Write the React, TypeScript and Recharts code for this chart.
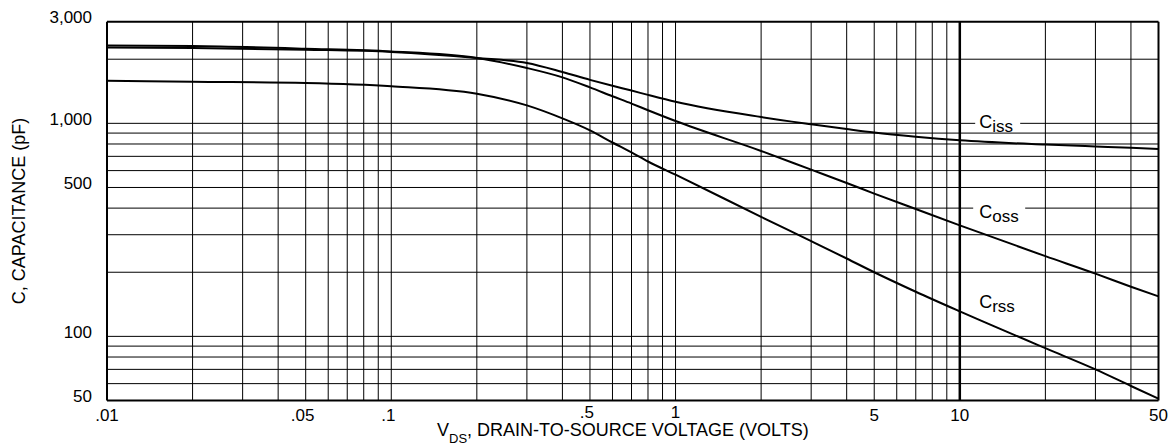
import React from 'react';
import { LineChart, Line, XAxis, YAxis, ReferenceLine, ReferenceDot } from 'recharts';

const vds = [0.01, 0.02, 0.05, 0.1, 0.2, 0.3, 0.4, 0.5, 0.6, 0.7, 0.8, 1, 2, 3, 4, 5, 7, 10, 20, 30, 40, 50];
const ciss = [2273, 2258, 2217, 2165, 2027, 1920, 1742, 1600, 1500, 1425, 1360, 1262, 1070, 990, 940, 905, 865, 832, 795, 779, 768, 758];
const coss = [2322, 2308, 2241, 2175, 2027, 1819, 1644, 1475, 1340, 1238, 1152, 1025, 742, 606, 525, 468, 396, 332, 238, 197, 171, 154];
const crss = [1586, 1568, 1546, 1494, 1378, 1214, 1055, 927, 813, 730, 662, 574, 364, 280, 232, 200, 162, 131, 88, 70, 58.5, 51];

const xTicks = [0.01, 0.05, 0.1, 0.5, 1, 5, 10, 50];
const xTickLabels = ['.01', '.05', '.1', '.5', '1', '5', '10', '50'];
const yTicks = [50, 100, 500, 1000, 3000];
const yTickLabels = ['50', '100', '500', '1,000', '3,000'];

const xGrid = [0.02, 0.03, 0.04, 0.05, 0.06, 0.07, 0.08, 0.09, 0.1, 0.2, 0.3, 0.4, 0.5, 0.6, 0.7, 0.8, 0.9, 1, 2, 3, 4, 5, 6, 7, 8, 9, 20, 30, 40];
const yGrid = [60, 70, 80, 90, 100, 200, 300, 400, 500, 600, 700, 800, 900, 1000, 2000];

// where the curve names sit (data coords)
const curveLabels = [
  { sub: 'iss', x: 11.7, y: 1000 },
  { sub: 'oss', x: 11.7, y: 400 },
  { sub: 'rss', x: 11.7, y: 150 },
];

const data = vds.map((v, i) => ({ v, ciss: ciss[i], coss: coss[i], crss: crss[i] }));

const font = '"Liberation Sans", Arial, sans-serif';

const XTick = (p: any) => {
  const i = xTicks.indexOf(p.payload.value);
  const label = xTickLabels[i];
  const dx = label.startsWith('.') && p.payload.value > 0.01 ? -3 : 0;
  const raise = p.payload.value === 0.5 || p.payload.value === 1 ? -3 : 0;
  return (
    <text x={p.x + dx} y={p.y + 20.5 + raise} textAnchor="middle" fontSize={17} fontFamily={font} fill="#000">
      {label}
    </text>
  );
};

const YTick = (p: any) => {
  const i = yTicks.indexOf(p.payload.value);
  return (
    <text x={p.x} y={p.y + 1.5} textAnchor="end" fontSize={17} fontFamily={font} fill="#000">
      {yTickLabels[i]}
    </text>
  );
};

const makeLabel = (sub: string) => (p: any) => {
  const { cx, cy } = p;
  const dy = sub === 'iss' ? 5 : sub === 'oss' ? 10 : 9;
  const w = sub === 'iss' ? 45 : sub === 'oss' ? 52 : 0;
  const left = sub === 'oss' ? 6 : 4;
  return (
    <g>
      {w > 0 && <rect x={cx - left} y={cy - 8} width={w} height={15} fill="#fff" />}
      <text x={cx} y={cy + dy} fontSize={18} fontFamily={font} fill="#000">
        C<tspan fontSize={17} dy={4}>{sub}</tspan>
      </text>
    </g>
  );
};

export default function App() {
  return (
    <div style={{ position: 'absolute', left: 0, top: 0, background: '#fff' }}>
      <LineChart width={1171} height={445} data={data} margin={{ top: 21.7, right: 12.5, bottom: 0, left: 0 }}>
        <XAxis
          dataKey="v"
          type="number"
          scale="log"
          domain={[0.01, 50]}
          ticks={xTicks}
          allowDataOverflow
          height={44.5}
          tickSize={0}
          tickMargin={0}
          tickLine={false}
          axisLine={{ stroke: '#000', strokeWidth: 2 }}
          tick={XTick}
        />
        <YAxis
          type="number"
          scale="log"
          domain={[50, 3000]}
          ticks={yTicks}
          allowDataOverflow
          width={107}
          tickSize={0}
          tickMargin={15}
          tickLine={false}
          axisLine={{ stroke: '#000', strokeWidth: 2 }}
          tick={YTick}
        />
        {xGrid.map((g) => (
          <ReferenceLine key={'x' + g} x={g} stroke="#000" strokeWidth={1} />
        ))}
        {yGrid.map((g) => (
          <ReferenceLine key={'y' + g} y={g} stroke="#000" strokeWidth={1} />
        ))}
        <ReferenceLine x={10} stroke="#000" strokeWidth={2.5} />
        <ReferenceLine x={50} stroke="#000" strokeWidth={2} />
        <ReferenceLine y={3000} stroke="#000" strokeWidth={2} />
        <Line dataKey="ciss" type="monotone" stroke="#000" strokeWidth={2} dot={false} isAnimationActive={false} />
        <Line dataKey="coss" type="monotone" stroke="#000" strokeWidth={2} dot={false} isAnimationActive={false} />
        <Line dataKey="crss" type="monotone" stroke="#000" strokeWidth={2} dot={false} isAnimationActive={false} />
        {curveLabels.map((l) => (
          <ReferenceDot key={l.sub} x={l.x} y={l.y} r={0} shape={makeLabel(l.sub)} />
        ))}
        <text transform="rotate(-90)" x={-211} y={25} textAnchor="middle" fontSize={18} fontFamily={font} fill="#000">
          C, CAPACITANCE (pF)
        </text>
        <text x={437} y={436} fontSize={18} fontFamily={font} fill="#000">
          V<tspan fontSize={13} dy={7}>DS</tspan>
          <tspan dy={-7}>, DRAIN-TO-SOURCE VOLTAGE (VOLTS)</tspan>
        </text>
      </LineChart>
    </div>
  );
}
